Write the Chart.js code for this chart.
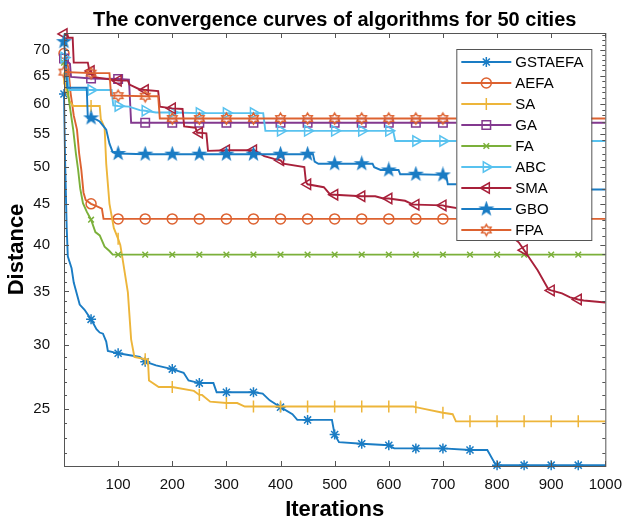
<!DOCTYPE html>
<html>
<head>
<meta charset="utf-8">
<script src="https://cdn.jsdelivr.net/npm/chart.js@4.4.0/dist/chart.umd.min.js"></script>
<style>
  html, body { margin: 0; padding: 0; background: #fff; }
  #wrap { width: 632px; height: 524px; }
</style>
</head>
<body>
<div id="wrap"><canvas id="conv"></canvas></div>
<script>
// iterations where the markers sit
const markIters = [0, 50, 100, 150, 200, 250, 300, 350, 400, 450, 500, 550, 600, 650, 700, 750, 800, 850, 900, 950];
const xTicks = [0, 100, 200, 300, 400, 500, 600, 700, 800, 900, 1000];
const yTicks = [25, 30, 35, 40, 45, 50, 55, 60, 65, 70];

const algNames = ["GSTAEFA", "AEFA", "SA", "GA", "FA", "ABC", "SMA", "GBO", "FPA"];

// breakpoints of each curve [iteration, distance]
const gstaefaPath = [[0,61.7],[2,51],[5,42],[7,38.7],[14,37.4],[18,35.9],[29,33.7],[38,33.2],[60,31.4],[66,31.1],[72,31.0],[78,30.3],[81,29.5],[127,29.1],[140,29.0],[170,28.3],[221,27.7],[230,27.1],[276,26.9],[282,26.2],[367,26.1],[380,25.6],[422,24.6],[431,24.2],[495,24.2],[508,22.7],[610,22.3],[782,22.2],[797,21.3],[1000,21.25]];
const aefaPath = [[0,69.3],[5,68],[8,66.5],[12,62],[18,58],[24,55.7],[28,52],[32,49.6],[36,46.5],[40,45.5],[60,44.7],[70,44.4],[73,43.1],[1000,43.1]];
const saPath = [[0,64.5],[5,62],[10,60.5],[17,59.6],[66,59.6],[68,57.4],[75,56],[78,50.5],[84,45],[92,42],[104,40],[108,38.5],[118,34.9],[124,30.5],[130,29.0],[155,28.8],[157,27.1],[175,26.6],[240,26.3],[255,26.0],[270,25.5],[320,25.4],[334,25.15],[645,25.15],[663,25.0],[718,24.6],[724,24.1],[1000,24.1]];
const gaPath = [[0,68.3],[11,67.3],[13,64.8],[120,64.3],[124,56.8],[1000,56.8]];
const faPath = [[0,67.5],[5,64],[10,60],[17,55.7],[22,52],[26,49.7],[30,47],[35,45.1],[42,44],[58,41.5],[66,41.1],[75,39.8],[84,39.3],[90,38.9],[1000,38.9]];
const abcPath = [[0,68.5],[5,66],[10,62.4],[88,62.4],[91,59.7],[120,59.5],[140,58.9],[170,58.5],[368,58.4],[372,55.5],[608,55.5],[612,53.9],[1000,53.9]];
const smaPath = [[0,73.3],[6,73.3],[8,72.5],[16,72.5],[18,67.5],[44,67.5],[47,65.9],[53,64.8],[118,64.1],[121,63.4],[140,62.5],[174,62.2],[177,59.5],[219,59.1],[222,56.2],[243,56.0],[246,55.2],[263,55.1],[266,52.4],[352,52.5],[370,51.6],[388,51.2],[405,50.5],[444,50.0],[447,47.9],[480,47.2],[492,46.2],[575,46.0],[590,45.7],[630,45.4],[645,44.9],[705,44.7],[740,44.3],[790,43.0],[815,42.0],[828,40.9],[840,40.3],[860,38.5],[875,37.2],[895,35.2],[920,34.8],[935,34.4],[960,34.1],[1000,33.9]];
const gboPath = [[0,71.7],[3,68],[6,62.8],[42,62.8],[44,57.6],[60,57.3],[66,57.0],[78,55.7],[84,53.5],[90,52.2],[460,51.9],[463,50.8],[470,50.5],[570,50.5],[573,50.0],[585,49.6],[618,49.6],[621,49.0],[706,48.9],[709,47.6],[830,47.6],[835,46.9],[1000,46.9]];
const fpaPath = [[0,65.7],[84,65.5],[87,61.4],[174,61.3],[177,57.5],[1000,57.5]];

// values at the marker iterations
const gstaefaMarks = [61.7,32.3,29.3,28.6,28.0,26.9,26.2,26.2,25.1,24.2,23.2,22.6,22.5,22.3,22.3,22.2,21.25,21.25,21.25,21.25];
const aefaMarks = [69.3,45.0,43.1,43.1,43.1,43.1,43.1,43.1,43.1,43.1,43.1,43.1,43.1,43.1,43.1,43.1,43.1,43.1,43.1,43.1];
const saMarks = [64.5,59.6,40.7,28.8,26.6,26.0,25.4,25.15,25.15,25.15,25.15,25.15,25.15,25.1,24.7,24.1,24.1,24.1,24.1,24.1];
const gaMarks = [68.3,64.5,64.4,56.8,56.8,56.8,56.8,56.8,56.8,56.8,56.8,56.8,56.8,56.8,56.8,56.8,56.8,56.8,56.8,56.8];
const faMarks = [67.5,43.0,38.9,38.9,38.9,38.9,38.9,38.9,38.9,38.9,38.9,38.9,38.9,38.9,38.9,38.9,38.9,38.9,38.9,38.9];
const abcMarks = [68.5,62.4,59.6,58.8,58.5,58.4,58.4,58.4,55.5,55.5,55.5,55.5,55.5,53.9,53.9,53.9,53.9,53.9,53.9,53.9];
const smaMarks = [73.3,65.9,64.1,62.4,59.2,55.2,52.5,52.5,51.0,47.6,46.2,46.0,45.7,44.9,44.8,44.1,42.5,39.4,35.1,34.2];
const gboMarks = [71.7,57.6,52.0,51.9,51.9,51.9,51.9,51.9,51.9,51.9,50.5,50.5,49.6,49.0,48.9,47.6,47.6,46.9,46.9,46.9];
const fpaMarks = [65.7,65.5,61.4,61.3,57.5,57.5,57.5,57.5,57.5,57.5,57.5,57.5,57.5,57.5,57.5,57.5,57.5,57.5,57.5,57.5];

const paths = [gstaefaPath, aefaPath, saPath, gaPath, faPath, abcPath, smaPath, gboPath, fpaPath];
const marks = [gstaefaMarks, aefaMarks, saMarks, gaMarks, faMarks, abcMarks, smaMarks, gboMarks, fpaMarks];

const FONT = "'Liberation Sans', Arial, Helvetica, sans-serif";

// star shaped markers (pentagram / hexagram)
function starMarker(n, outer, inner, color, filled) {
  const c = document.createElement("canvas");
  const s = Math.ceil(outer * 2 + 4);
  c.width = s; c.height = s;
  const g = c.getContext("2d");
  g.beginPath();
  for (let i = 0; i < n * 2; i++) {
    const r = i % 2 === 0 ? outer : inner;
    const a = -Math.PI / 2 + i * Math.PI / n;
    const px = s / 2 + r * Math.cos(a), py = s / 2 + r * Math.sin(a);
    i === 0 ? g.moveTo(px, py) : g.lineTo(px, py);
  }
  g.closePath();
  if (filled) { g.fillStyle = color; g.fill(); }
  g.strokeStyle = color; g.lineWidth = 1.4; g.stroke();
  return c;
}

const colors = ["#1a7cc4", "#dd6230", "#edb53a", "#83398f", "#7bb03a", "#58c2ef", "#a8203a", "#1a7cc4", "#dd6230"];
const styles = [
  { pointStyle: "star", radius: 5, rotation: 0 },
  { pointStyle: "circle", radius: 5, rotation: 0 },
  { pointStyle: "line", radius: 6, rotation: 90 },
  { pointStyle: "rect", radius: 6, rotation: 0 },
  { pointStyle: "crossRot", radius: 4, rotation: 0 },
  { pointStyle: "triangle", radius: 6, rotation: 90 },
  { pointStyle: "triangle", radius: 6, rotation: -90 },
  { pointStyle: starMarker(5, 6.3, 2.5, colors[7], true), radius: 6, rotation: 0 },
  { pointStyle: starMarker(6, 5.5, 3.2, colors[8], false), radius: 6, rotation: 0 }
];

function buildSeries(path, mk) {
  const pts = path.map(p => ({ x: p[0], y: p[1], mark: false }));
  markIters.forEach((it, i) => {
    const idx = pts.findIndex(p => p.x === it);
    const pt = { x: it, y: mk[i], mark: true };
    if (idx >= 0) pts[idx] = pt; else pts.push(pt);
  });
  return pts.sort((a, b) => a.x - b.x);
}

const datasets = algNames.map((name, i) => ({
  label: name,
  data: buildSeries(paths[i], marks[i]),
  borderColor: colors[i],
  backgroundColor: "rgba(0,0,0,0)",
  pointBackgroundColor: "rgba(0,0,0,0)",
  pointBorderColor: colors[i],
  borderWidth: 1.9,
  pointBorderWidth: 1.5,
  pointStyle: styles[i].pointStyle,
  pointRotation: styles[i].rotation,
  pointRadius: ctx => (ctx.raw && ctx.raw.mark ? styles[i].radius : 0),
  pointHoverRadius: 0,
  tension: 0,
  clip: false,
  order: algNames.length - i
}));

// axes box with inward ticks like MATLAB
const boxPlugin = {
  id: "box",
  afterDatasetsDraw(chart) {
    const { ctx, chartArea: a, scales } = chart;
    ctx.save();
    ctx.strokeStyle = "#555";
    ctx.lineWidth = 1;
    ctx.strokeRect(a.left + 0.5, a.top + 0.5, a.right - a.left, a.bottom - a.top);
    ctx.beginPath();
    xTicks.forEach(v => {
      const x = Math.round(scales.x.getPixelForValue(v)) + 0.5;
      ctx.moveTo(x, a.bottom); ctx.lineTo(x, a.bottom - 5);
      ctx.moveTo(x, a.top); ctx.lineTo(x, a.top + 5);
    });
    for (let v = 22; v <= 73; v++) {
      const y = Math.round(scales.y.getPixelForValue(v)) + 0.5;
      const len = v % 5 === 0 ? 5 : 3;
      ctx.moveTo(a.left, y); ctx.lineTo(a.left + len, y);
      ctx.moveTo(a.right, y); ctx.lineTo(a.right - len, y);
    }
    ctx.stroke();
    ctx.restore();
  }
};

const legendPlugin = {
  id: "boxLegend",
  afterDraw(chart) {
    const { ctx, chartArea: a } = chart;
    const lx = a.right - 149, ly = a.top + 16, w = 135, h = 191;
    ctx.save();
    ctx.fillStyle = "#fff";
    ctx.fillRect(lx, ly, w, h);
    ctx.strokeStyle = "#555";
    ctx.lineWidth = 1;
    ctx.strokeRect(lx + 0.5, ly + 0.5, w, h);
    ctx.font = "15px " + FONT;
    ctx.textBaseline = "middle";
    algNames.forEach((name, i) => {
      const y = ly + 13 + i * 21;
      ctx.strokeStyle = colors[i];
      ctx.lineWidth = 1.9;
      ctx.beginPath();
      ctx.moveTo(lx + 5, y); ctx.lineTo(lx + 55, y);
      ctx.stroke();
      ctx.fillStyle = "rgba(0,0,0,0)";
      ctx.strokeStyle = colors[i];
      ctx.lineWidth = 1.5;
      Chart.helpers.drawPoint(ctx, {
        pointStyle: styles[i].pointStyle,
        radius: styles[i].radius,
        rotation: styles[i].rotation,
        borderWidth: 1.5
      }, lx + 30, y);
      ctx.fillStyle = "#000";
      ctx.fillText(name, lx + 59, y + 1);
    });
    ctx.restore();
  }
};

new Chart(document.getElementById("conv"), {
  type: "line",
  data: { datasets },
  options: {
    responsive: true,
    maintainAspectRatio: false,
    animation: false,
    events: [],
    layout: { padding: { left: 0, right: 20, top: 0, bottom: 0 } },
    plugins: {
      legend: { display: false },
      tooltip: { enabled: false },
      title: {
        display: true,
        text: "The convergence curves of algorithms for 50 cities",
        fullSize: false,
        color: "#000",
        font: { family: FONT, size: 20, weight: "bold" },
        padding: { top: 8, bottom: 1 }
      }
    },
    scales: {
      x: {
        type: "linear",
        min: 0,
        max: 1000,
        afterBuildTicks: s => { s.ticks = xTicks.map(v => ({ value: v })); },
        afterFit: s => { s.height = 58; },
        grid: { display: false, drawTicks: false },
        border: { display: false },
        ticks: {
          padding: 10,
          color: "#111",
          font: { family: FONT, size: 15 },
          maxRotation: 0,
          callback: v => (v === 0 ? "" : v)
        },
        title: {
          display: true,
          text: "Iterations",
          color: "#000",
          font: { family: FONT, size: 22, weight: "bold" },
          padding: { top: 0, bottom: 1 }
        }
      },
      y: {
        type: "logarithmic",
        min: 21.2,
        max: 73.5,
        afterBuildTicks: s => { s.ticks = yTicks.map(v => ({ value: v })); },
        afterFit: s => { s.width = 64; },
        grid: { display: false, drawTicks: false },
        border: { display: false },
        ticks: {
          padding: 14,
          color: "#111",
          font: { family: FONT, size: 15 },
          callback: v => v
        },
        title: {
          display: true,
          text: "Distance",
          color: "#000",
          font: { family: FONT, size: 22, weight: "bold" },
          padding: { top: 4, bottom: 0 }
        }
      }
    }
  },
  plugins: [boxPlugin, legendPlugin]
});
</script>
</body>
</html>
